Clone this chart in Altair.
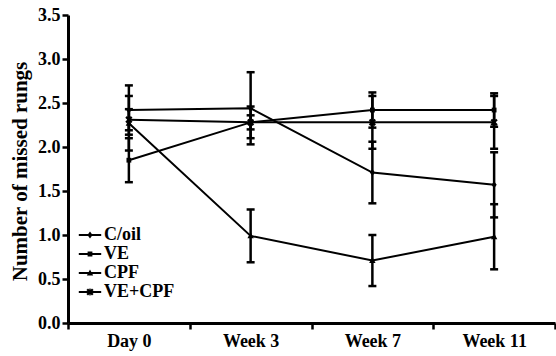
import altair as alt
import pandas as pd

# Time points and treatment groups
groups = ["Day 0", "Week 3", "Week 7", "Week 11"]
series = ["C/oil", "VE", "CPF", "VE+CPF"]

# Mean number of missed rungs per group and time point
c_oil = [2.42, 2.44, 1.71, 1.57]
ve = [1.85, 2.28, 2.42, 2.42]
cpf = [2.27, 0.99, 0.71, 0.98]
ve_cpf = [2.31, 2.28, 2.28, 2.28]

# Standard error of each mean
c_oil_err = [0.28, 0.41, 0.35, 0.37]
ve_err = [0.25, 0.18, 0.20, 0.19]
cpf_err = [0.31, 0.30, 0.29, 0.37]
ve_cpf_err = [0.12, 0.08, 0.30, 0.30]

means = {"C/oil": c_oil, "VE": ve, "CPF": cpf, "VE+CPF": ve_cpf}
errors = {"C/oil": c_oil_err, "VE": ve_err, "CPF": cpf_err, "VE+CPF": ve_cpf_err}

rows = []
for s in series:
    for g, m, e in zip(groups, means[s], errors[s]):
        rows.append({"group": g, "series": s, "mean": m, "lo": m - e, "hi": m + e})
df = pd.DataFrame(rows)

FONT = "Liberation Serif"

x_enc = alt.X(
    "group:N",
    sort=groups,
    scale=alt.Scale(paddingInner=0, paddingOuter=0),
    axis=alt.Axis(
        title=None,
        labelAngle=0,
        tickBand="extent",
        labelPadding=3,
    ),
)
y_scale = alt.Scale(domain=[0, 3.5], nice=False)
y_axis = alt.Axis(
    title="Number of missed rungs",
    values=[0, 0.5, 1, 1.5, 2, 2.5, 3, 3.5],
    format=".1f",
    titlePadding=7,
    titleY=156,
    titleFontSize=21,
    labelPadding=2,
)

base = alt.Chart(df)

lines = base.mark_line(color="black", strokeWidth=2).encode(
    x=x_enc,
    y=alt.Y("mean:Q", scale=y_scale, axis=y_axis),
    detail="series:N",
)

bars = base.mark_rule(color="black", strokeWidth=2.5).encode(
    x=x_enc,
    y=alt.Y("lo:Q", scale=y_scale),
    y2="hi:Q",
)

caps_hi = base.mark_tick(color="black", thickness=2.5, size=8, opacity=1).encode(
    x=x_enc, y=alt.Y("hi:Q", scale=y_scale)
)
caps_lo = base.mark_tick(color="black", thickness=2.5, size=8, opacity=1).encode(
    x=x_enc, y=alt.Y("lo:Q", scale=y_scale)
)

# Marker outlines (unit box [-1, 1]); the asterisk is built from three bars
DIAMOND = "M0,-0.45L0.32,0L0,0.45L-0.32,0Z"
SQUARE = "M-0.3,-0.3H0.3V0.3H-0.3Z"
TRIANGLE = "M0,-0.45L0.4,0.3H-0.4Z"
ASTERISK = (
    "M-0.25,-0.45L0.45,0.25L0.25,0.45L-0.45,-0.25Z"
    "M-0.45,0.25L0.25,-0.45L0.45,-0.25L-0.25,0.45Z"
    "M-0.08,-0.45L0.08,-0.45L0.08,0.45L-0.08,0.45Z"
)
LEG_LINE = "M-1.4,-0.13H1.4V0.13H-1.4Z"

points = base.mark_point(filled=True, color="black", opacity=1, size=256).encode(
    x=x_enc,
    y=alt.Y("mean:Q", scale=y_scale),
    shape=alt.Shape(
        "series:N",
        scale=alt.Scale(domain=series, range=[DIAMOND, SQUARE, TRIANGLE, ASTERISK]),
        legend=None,
    ),
)

# Legend symbols: a short line segment with the group's marker on it
legend_paths = [LEG_LINE + m for m in [DIAMOND, SQUARE, TRIANGLE, ASTERISK]]
legend_layer = base.mark_point(filled=True, color="black", opacity=0).encode(
    x=x_enc,
    y=alt.Y("mean:Q", scale=y_scale),
    shape=alt.Shape(
        "series:N",
        scale=alt.Scale(domain=series, range=legend_paths),
        legend=alt.Legend(
            title=None,
            orient="none",
            legendX=13,
            legendY=211,
            padding=0,
            symbolSize=256,
            symbolOpacity=1,
            symbolFillColor="black",
            symbolStrokeWidth=0,
            labelFont=FONT,
            labelFontSize=18,
            labelFontWeight="bold",
            labelColor="black",
            labelOffset=5,
            rowPadding=1,
        ),
    ),
)

chart = (
    alt.layer(lines, bars, caps_hi, caps_lo, points, legend_layer)
    .resolve_scale(shape="independent")
    .properties(
        width=487,
        height=308,
        autosize=alt.AutoSizeParams(type="none"),
        padding={"left": 68, "top": 15, "right": 1, "bottom": 33},
        background="white",
    )
    .configure_view(stroke=None)
    .configure_axis(
        domainColor="black",
        domainWidth=3,
        tickColor="black",
        tickWidth=2.5,
        tickSize=6,
        grid=False,
        labelFont=FONT,
        labelFontSize=18,
        labelFontWeight="bold",
        labelColor="black",
        titleFont=FONT,
        titleFontWeight="bold",
        titleColor="black",
    )
)

chart.save("out.html", embed_options={"renderer": "svg", "actions": False})
